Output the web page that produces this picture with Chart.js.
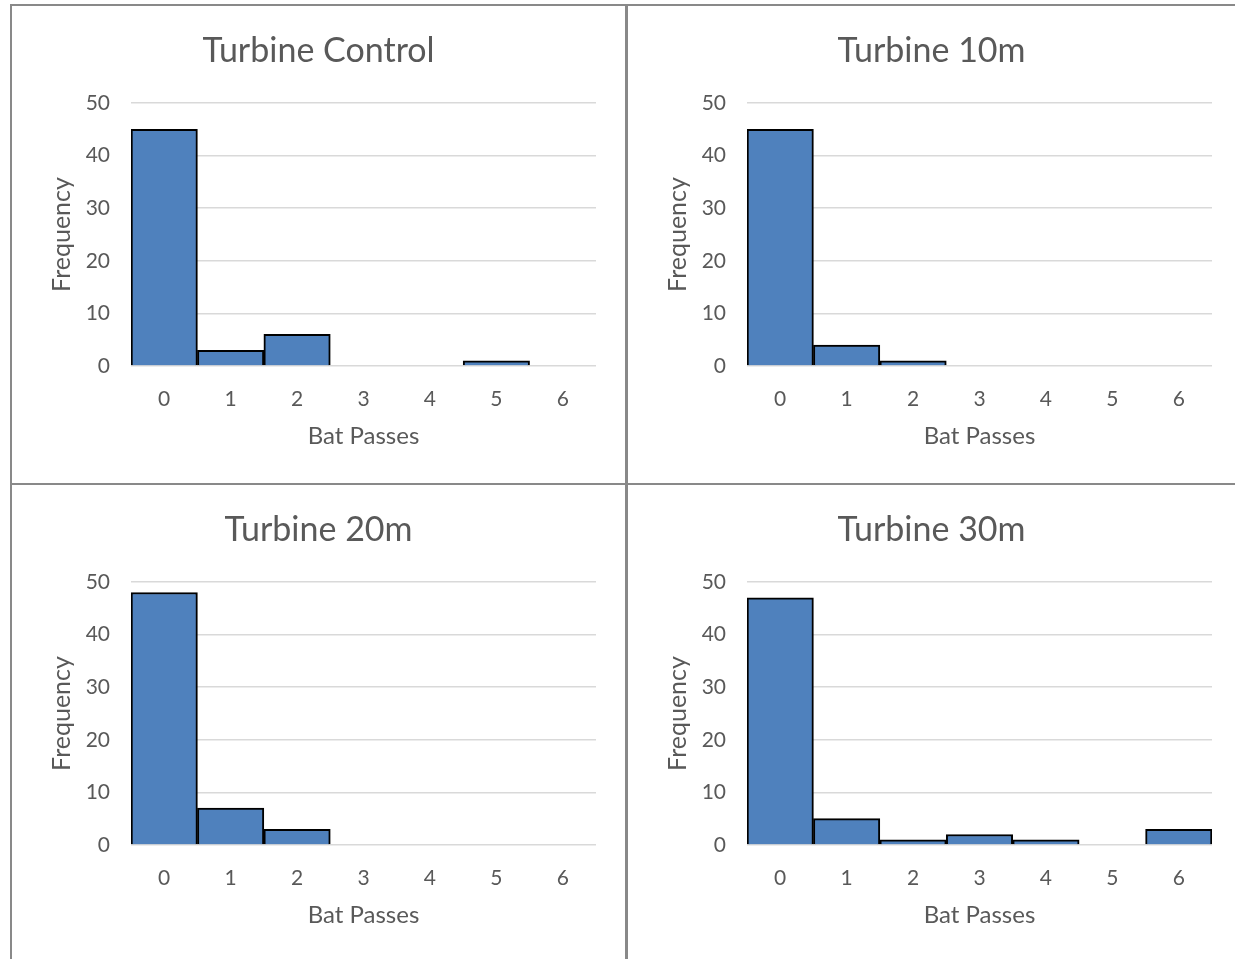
<!DOCTYPE html>
<html>
<head>
<meta charset="utf-8">
<title>Bat Passes per Turbine</title>
<script src="https://cdn.jsdelivr.net/npm/chart.js@4.4.1/dist/chart.umd.min.js"></script>
<style>
  html, body { margin: 0; padding: 0; background: #fff; overflow: hidden; }
  body { width: 1235px; height: 959px; position: relative; }
  .panel { position: absolute; }
  .rule { position: absolute; background: #898989; }
</style>
</head>
<body>
<div class="rule" style="left:10px;top:4px;width:1225px;height:2px"></div>
<div class="rule" style="left:10px;top:4px;width:2px;height:955px"></div>
<div class="rule" style="left:625px;top:4px;width:3px;height:955px"></div>
<div class="rule" style="left:10px;top:483px;width:1225px;height:2px"></div>

<div class="panel" style="left:12px;top:6px"><canvas id="chartControl" width="613" height="477"></canvas></div>
<div class="panel" style="left:628px;top:6px"><canvas id="chart10m" width="607" height="477"></canvas></div>
<div class="panel" style="left:12px;top:485px"><canvas id="chart20m" width="613" height="477"></canvas></div>
<div class="panel" style="left:628px;top:485px"><canvas id="chart30m" width="607" height="477"></canvas></div>

<script>
const batPasses = ['0', '1', '2', '3', '4', '5', '6'];
const controlFreq = [45, 3, 6, 0, 0, 1, 0];
const tenMetreFreq = [45, 4, 1, 0, 0, 0, 0];
const twentyMetreFreq = [48, 7, 3, 0, 0, 0, 0];
const thirtyMetreFreq = [47, 5, 1, 2, 1, 0, 3];
const yTicks = [0, 10, 20, 30, 40, 50];

const FONT = 'Lato, "Open Sans", sans-serif';
const TEXT = '#595959';

document.addEventListener('DOMContentLoaded', () => {
    initChart('chartControl', 'Turbine Control', controlFreq, 29);
    initChart('chart10m', 'Turbine 10m', tenMetreFreq, 23);
    initChart('chart20m', 'Turbine 20m', twentyMetreFreq, 29);
    initChart('chart30m', 'Turbine 30m', thirtyMetreFreq, 23);
});

function initChart(id, title, values, rightGap) {
    const ctx = document.getElementById(id)?.getContext('2d');
    if (!ctx) return;

    new Chart(ctx, {
        type: 'bar',
        data: {
            labels: batPasses,
            datasets: [{
                label: 'Frequency',
                data: values,
                backgroundColor: '#4F81BD',
                borderColor: '#000000',
                borderWidth: 2,
                borderSkipped: 'bottom',
                barPercentage: 1,
                categoryPercentage: 1
            }]
        },
        options: getChartOptions(title, rightGap)
    });
}

function getChartOptions(title, rightGap) {
    return {
        responsive: false,
        animation: false,
        layout: { padding: 0 },
        plugins: {
            legend: { display: false },
            tooltip: { enabled: false },
            title: {
                display: true,
                text: title,
                color: TEXT,
                font: { family: FONT, size: 34, weight: 'normal', lineHeight: 1.2 },
                padding: { top: 24.6, bottom: 31.6 }
            }
        },
        scales: {
            x: {
                grid: { display: false },
                border: { display: false },
                ticks: { color: TEXT, font: { family: FONT, size: 21 }, padding: 13 },
                title: {
                    display: true,
                    text: 'Bat Passes',
                    color: TEXT,
                    font: { family: FONT, size: 24, lineHeight: 1.2 },
                    padding: { top: 0, bottom: 32.6 }
                },
                afterFit: (scale) => { scale.height = 117; }
            },
            y: {
                min: 0,
                max: 50,
                grid: { color: '#D9D9D9', lineWidth: 1.5, drawTicks: false },
                border: { display: false },
                afterBuildTicks: (scale) => { scale.ticks = yTicks.map(v => ({ value: v })); },
                ticks: { color: TEXT, font: { family: FONT, size: 21 }, padding: 21 },
                title: {
                    display: true,
                    text: 'Frequency',
                    color: TEXT,
                    font: { family: FONT, size: 25, lineHeight: 1.2 },
                    padding: { top: 35, bottom: 0 }
                },
                afterFit: (scale) => { scale.width = 119; }
            },
            // empty right-hand axis keeps a gap after the plot without shifting the title
            gap: {
                type: 'linear',
                position: 'right',
                grid: { display: false },
                border: { display: false },
                ticks: { display: false },
                afterFit: (scale) => { scale.width = rightGap; }
            }
        }
    };
}
</script>
</body>
</html>
